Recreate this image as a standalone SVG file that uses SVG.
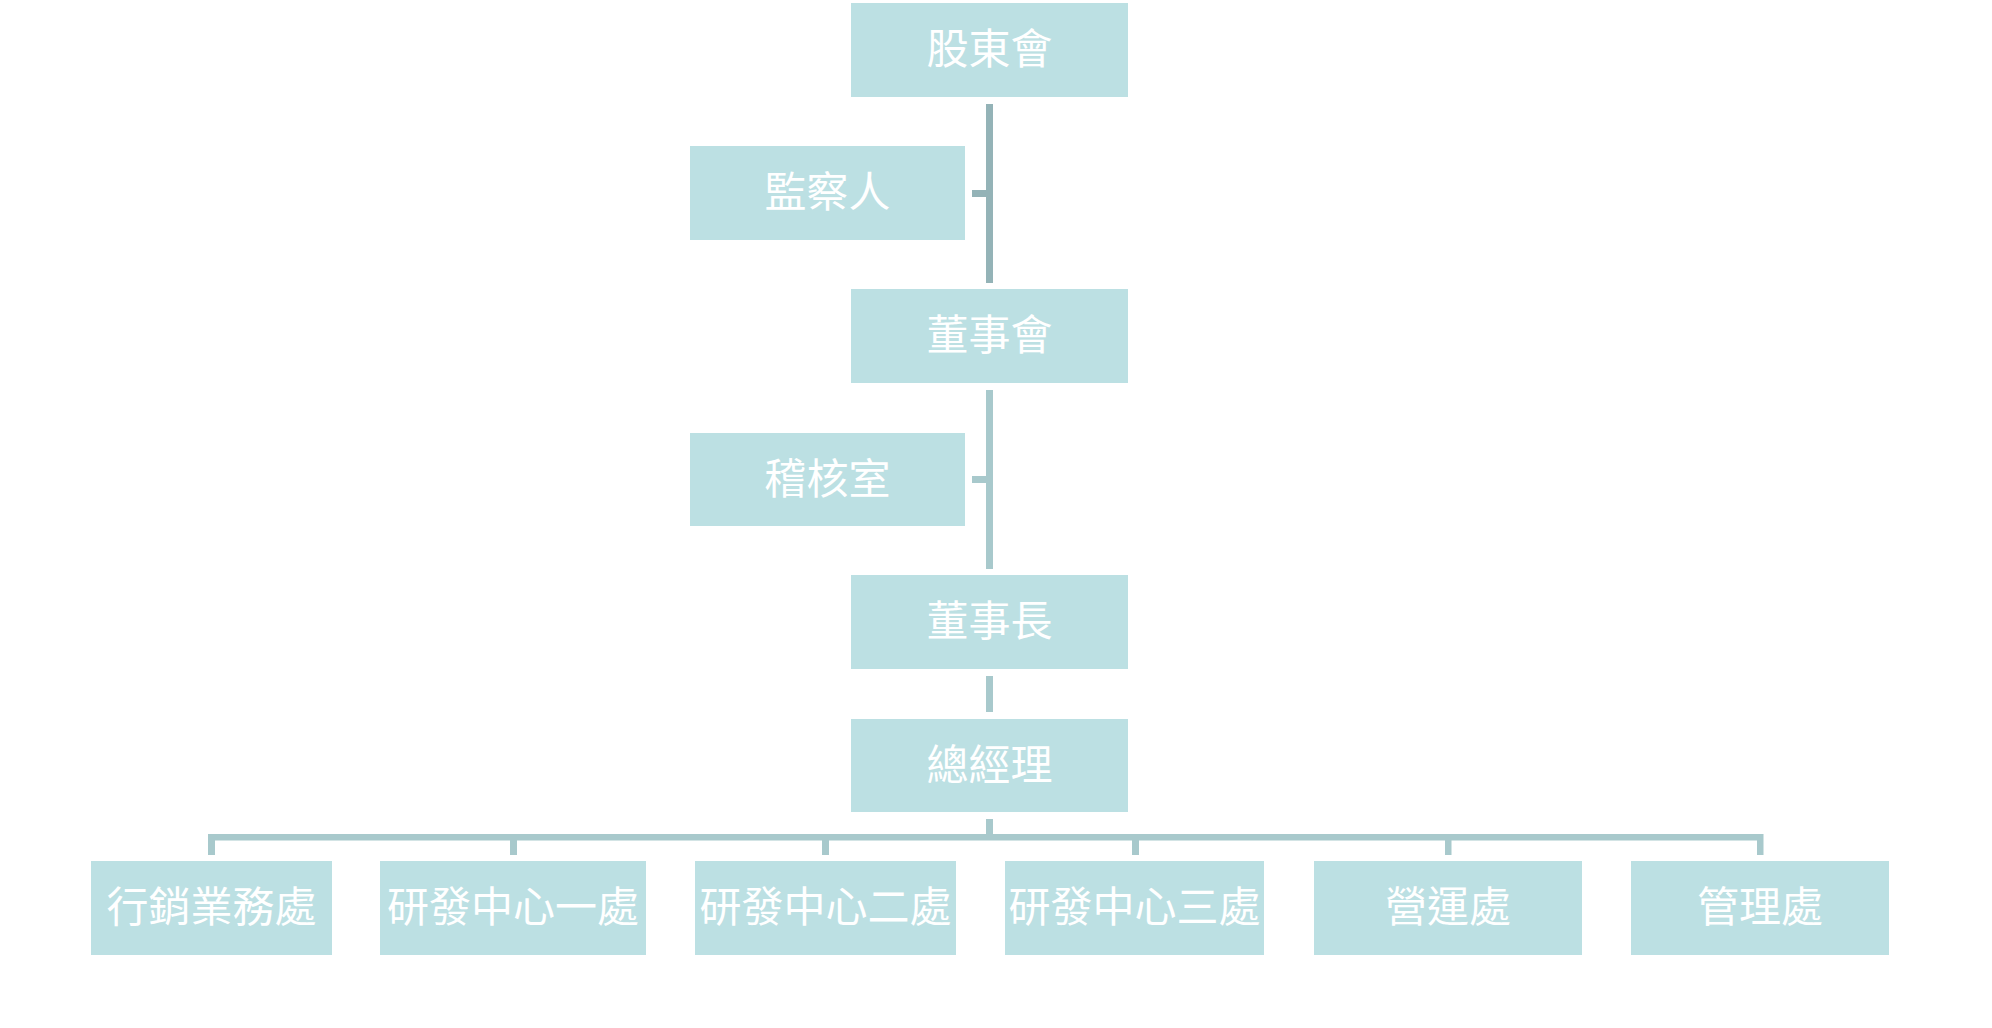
<svg xmlns="http://www.w3.org/2000/svg" width="1992" height="1028" viewBox="0 0 1992 1028">
<style>
.box{fill:#bce0e3;}
.lbl{fill:#ffffff;font-family:"Liberation Serif","Noto Sans CJK TC",serif;font-size:42px;text-anchor:middle;dominant-baseline:central;}
.c1{fill:#94b3b7;}
.c2{fill:#a8c9cc;}
</style>
<rect width="1992" height="1028" fill="#ffffff"/>
<g id="connectors">
<rect class="c1" x="986" y="104" width="7" height="179"/>
<rect class="c1" x="972" y="190" width="16" height="7"/>
<rect class="c2" x="986" y="390" width="7" height="179"/>
<rect class="c2" x="972" y="476" width="16" height="7"/>
<rect class="c2" x="986" y="676" width="7" height="36"/>
<rect class="c2" x="986" y="819" width="7" height="18"/>
<rect class="c2" x="208" y="834" width="1555" height="6.5"/>
<rect class="c2" x="208" y="834" width="7" height="21"/>
<rect class="c2" x="510" y="834" width="7" height="21"/>
<rect class="c2" x="822" y="834" width="7" height="21"/>
<rect class="c2" x="1132" y="834" width="7" height="21"/>
<rect class="c2" x="1445" y="834" width="6.5" height="21"/>
<rect class="c2" x="1757" y="834" width="6.5" height="21"/>
</g>
<g id="n1"><rect class="box" x="851" y="3" width="277" height="94"/><text class="lbl" x="989.5" y="50">股東會</text></g>
<g id="n2"><rect class="box" x="690" y="146" width="275" height="94"/><text class="lbl" x="827.5" y="193">監察人</text></g>
<g id="n3"><rect class="box" x="851" y="289" width="277" height="94"/><text class="lbl" x="989.5" y="336">董事會</text></g>
<g id="n4"><rect class="box" x="690" y="433" width="275" height="93"/><text class="lbl" x="827.5" y="479.5">稽核室</text></g>
<g id="n5"><rect class="box" x="851" y="575" width="277" height="94"/><text class="lbl" x="989.5" y="622">董事長</text></g>
<g id="n6"><rect class="box" x="851" y="719" width="277" height="93"/><text class="lbl" x="989.5" y="765.5">總經理</text></g>
<g id="n7"><rect class="box" x="91" y="861" width="241" height="94"/><text class="lbl" x="211.5" y="908">行銷業務處</text></g>
<g id="n8"><rect class="box" x="380" y="861" width="266" height="94"/><text class="lbl" x="513" y="908">研發中心一處</text></g>
<g id="n9"><rect class="box" x="695" y="861" width="261" height="94"/><text class="lbl" x="825.5" y="908">研發中心二處</text></g>
<g id="n10"><rect class="box" x="1005" y="861" width="259" height="94"/><text class="lbl" x="1134.5" y="908">研發中心三處</text></g>
<g id="n11"><rect class="box" x="1314" y="861" width="268" height="94"/><text class="lbl" x="1448" y="908">營運處</text></g>
<g id="n12"><rect class="box" x="1631" y="861" width="258" height="94"/><text class="lbl" x="1760" y="908">管理處</text></g>
</svg>
